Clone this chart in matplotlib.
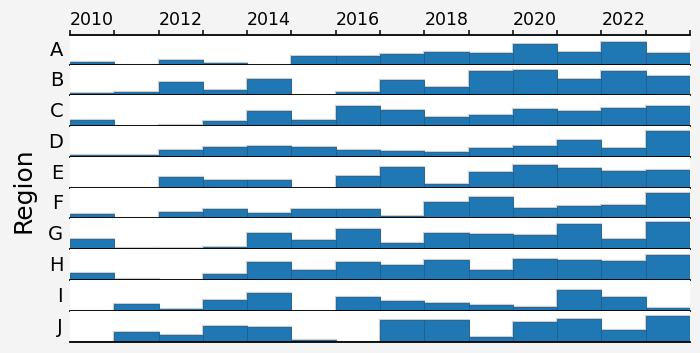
import matplotlib
matplotlib.use("Agg")
import matplotlib.pyplot as plt
import numpy as np

years = list(range(2010, 2024))
regions = ["A", "B", "C", "D", "E", "F", "G", "H", "I", "J"]

A = [8, 0, 14, 3, 0, 24, 24, 32, 38, 35, 62, 38, 68, 34]
B = [6, 11, 41, 17, 50, 0, 9, 45, 26, 72, 75, 50, 72, 59]
C = [18, 0, 3, 15, 45, 18, 60, 48, 27, 33, 51, 45, 54, 60]
D = [5, 5, 20, 29, 32, 29, 20, 17, 14, 26, 32, 51, 26, 77]
E = [0, 0, 33, 24, 24, 0, 36, 63, 12, 48, 69, 60, 51, 54]
F = [12, 0, 18, 27, 15, 27, 27, 6, 48, 63, 30, 36, 39, 75]
G = [29, 3, 3, 8, 47, 26, 59, 17, 47, 44, 41, 74, 29, 80]
H = [20, 3, 0, 17, 53, 29, 53, 44, 59, 29, 62, 59, 56, 74]
I = [0, 19, 6, 33, 54, 0, 42, 30, 22, 18, 12, 63, 42, 9]
J = [0, 29, 20, 47, 44, 5, 0, 65, 65, 14, 59, 68, 35, 77]
series = [A, B, C, D, E, F, G, H, I, J]

tick_years = list(range(2010, 2025))
tick_labels = [str(y) if (y % 2 == 0 and y < 2024) else "" for y in tick_years]

W, H_ = 700, 353
fig = plt.figure(figsize=(W / 100, H_ / 100), dpi=100)
fig.patch.set_facecolor("#f4f4f4")

left = 70 / W
width = 620 / W
row_h = 30.78
first_base = 64.5

for i, (name, vals) in enumerate(zip(regions, series)):
    base = first_base + row_h * i
    ax = fig.add_axes([left, 1 - base / H_, width, row_h / H_])
    ax.set_facecolor("white")
    ax.bar(years, vals, width=1, align="edge", color="none",
           edgecolor="#cfcfcf", linewidth=1.6, zorder=1)
    ax.bar(years, vals, width=1, align="edge", color="#1f77b4",
           edgecolor="#1b5f8f", linewidth=0.6, zorder=1.5)
    ax.set_xlim(2010, 2024)
    ax.set_ylim(0, 92)
    for s in ["top", "left", "right"]:
        ax.spines[s].set_visible(False)
    ax.spines["bottom"].set_linewidth(1.3)
    ax.spines["bottom"].set_color("black")
    ax.spines["bottom"].set_zorder(3)
    ax.set_xticks([])
    ax.set_yticks([])
    ax.text(-0.011, 0.47, name, transform=ax.transAxes, ha="right",
            va="center", fontsize=14, color="black")

ax_top = fig.add_axes([left, 1 - 35.5 / H_, width, 0.0001])
ax_top.patch.set_visible(False)
for s in ["bottom", "left", "right"]:
    ax_top.spines[s].set_visible(False)
ax_top.spines["top"].set_linewidth(1.3)
ax_top.set_xlim(2010, 2024)
ax_top.set_yticks([])
ax_top.xaxis.set_ticks_position("top")
ax_top.set_xticks(tick_years)
ax_top.set_xticklabels(tick_labels, ha="left")
ax_top.tick_params(axis="x", direction="out", length=3.5, width=1.1,
                   pad=1.5, labelsize=12.5)

fig.text(23 / W, 1 - 190 / H_, "Region", rotation=90, fontsize=18,
         ha="center", va="center")

fig.savefig("out.png", dpi=100, facecolor=fig.get_facecolor())
